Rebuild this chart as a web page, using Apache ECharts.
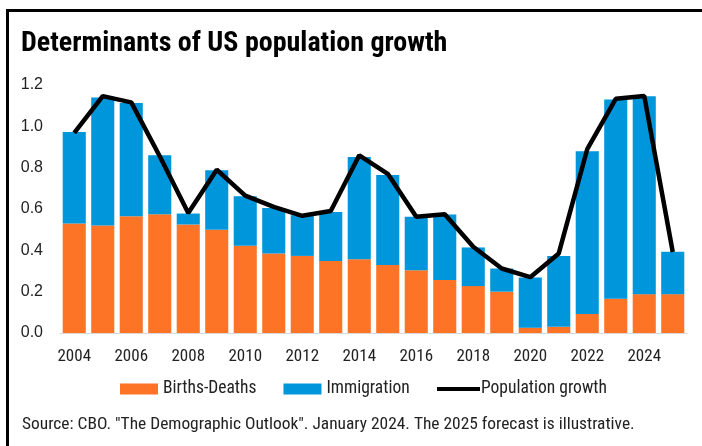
<!DOCTYPE html>
<html><head><meta charset="utf-8">
<script src="https://cdn.jsdelivr.net/npm/echarts@6/dist/echarts.min.js"></script>
<style>
html,body{margin:0;padding:0;background:#fff;}
#frame{position:absolute;left:6px;top:9px;width:720px;height:460px;border-top:3px solid #000;border-left:3px solid #000;}
#c{position:absolute;left:0;top:0;width:702px;height:446px;}
</style></head>
<body><div id="frame"></div><div id="c"></div>
<script>
const years = ['2004','2005','2006','2007','2008','2009','2010','2011','2012','2013','2014','2015','2016','2017','2018','2019','2020','2021','2022','2023','2024','2025'];
const birthsDeaths = [0.53,0.52,0.565,0.575,0.525,0.50,0.422,0.385,0.373,0.348,0.357,0.329,0.304,0.256,0.227,0.20,0.026,0.03,0.092,0.166,0.188,0.188];
const immigration = [0.442,0.62,0.548,0.285,0.053,0.287,0.24,0.22,0.197,0.238,0.495,0.436,0.258,0.317,0.187,0.112,0.243,0.343,0.788,0.964,0.957,0.205];
const populationGrowth = [0.968,1.146,1.116,0.855,0.581,0.79,0.665,0.61,0.567,0.59,0.86,0.77,0.562,0.575,0.417,0.312,0.27,0.385,0.89,1.133,1.147,0.392];
const yTicks = [0,0.2,0.4,0.6,0.8,1.0,1.2];

const condensed = '"Roboto Condensed","Open Sans Condensed","DejaVu Sans Condensed",sans-serif';
const chart = echarts.init(document.getElementById('c'), null, {renderer:'canvas'});
chart.setOption({
  animation:false,
  backgroundColor:'transparent',
  title:{text:'Determinants of US population growth',left:21,top:30,padding:0,
    textStyle:{fontFamily:condensed,fontWeight:'bold',fontSize:28,color:'#000'}},
  grid:{left:60,right:15,top:85,bottom:113,containLabel:false},
  legend:[
    {left:120,top:380,itemWidth:38,itemHeight:11,itemGap:27,padding:0,
     textStyle:{fontFamily:condensed,fontSize:17.5,color:'#222'},
     data:[{name:'Births-Deaths',icon:'rect'},{name:'Immigration',icon:'rect'}]},
    {left:437,top:380,itemWidth:43,itemHeight:4,padding:0,
     textStyle:{fontFamily:condensed,fontSize:17.5,color:'#222',padding:[0,0,0,-4]},
     data:[{name:'Population growth',icon:'rect'}]}
  ],
  graphic:[{type:'text',left:22,top:416,style:{text:'Source: CBO. "The Demographic Outlook". January 2024. The 2025 forecast is illustrative.',
    font:'17.4px '+condensed,fill:'#222'}}],
  xAxis:{type:'category',data:years,
    axisLine:{lineStyle:{color:'#d9d9d9',width:1}},axisTick:{show:false},
    axisLabel:{interval:1,fontFamily:condensed,fontSize:17,color:'#222',margin:15}},
  yAxis:{type:'value',min:yTicks[0],max:yTicks[yTicks.length-1],interval:0.2,
    splitLine:{show:false},axisLine:{show:false},axisTick:{show:false},
    axisLabel:{formatter:v=>v.toFixed(1),fontFamily:'"Liberation Sans",Arial,sans-serif',fontSize:16,color:'#222',margin:17}},
  series:[
    {name:'Births-Deaths',type:'bar',stack:'t',data:birthsDeaths,barCategoryGap:'19%',itemStyle:{color:'#FD7426'}},
    {name:'Immigration',type:'bar',stack:'t',data:immigration,itemStyle:{color:'#0096DB'}},
    {name:'Population growth',type:'line',data:populationGrowth,symbol:'none',
      lineStyle:{color:'#000',width:4.5},itemStyle:{color:'#000'},z:5}
  ]
});
</script></body></html>
